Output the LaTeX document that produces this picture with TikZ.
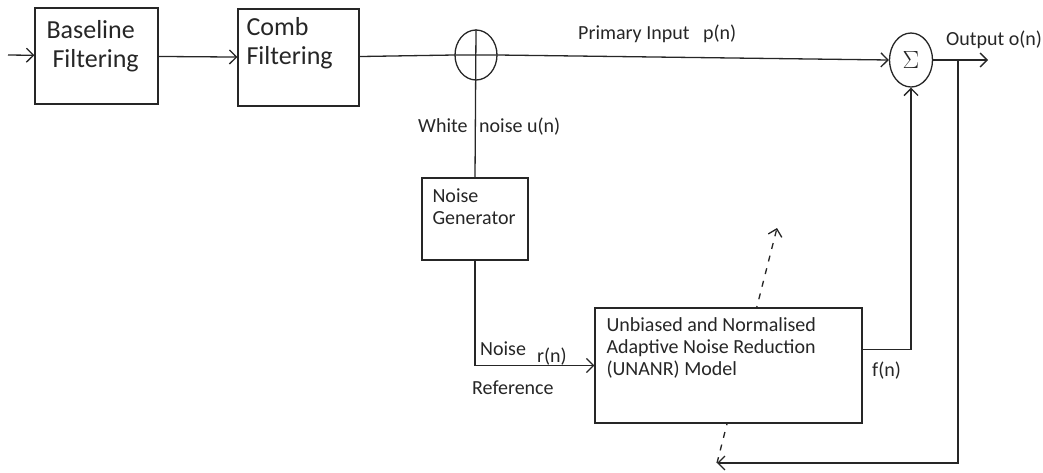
\documentclass[tikz,border=0pt]{standalone}
\usepackage{fontspec}
\setmainfont{Carlito}
\usetikzlibrary{positioning,shapes.geometric,arrows.meta}

\begin{document}
\begin{tikzpicture}[
        x=1pt, y=-1pt,
        % define styles
        block/.style={
            draw, fill=white,
            line width=1.3pt,
            inner sep=0pt
        },
        blocktext/.style={
            anchor=north west,
            inner sep=0pt,
            align=left,
            font=\fontsize{20}{22}\selectfont
        },
        bigtext/.style={
            blocktext,
            font=\fontsize{26}{29}\selectfont
        },
        junction/.style={
            draw, ellipse,
            line width=1.3pt,
            inner sep=0pt
        },
        sig/.style={
            anchor=base west,
            inner sep=0pt,
            font=\fontsize{20}{22}\selectfont
        },
        wire/.style={line width=1.3pt},
        adapt/.style={line width=1.3pt, dash pattern=on 6pt off 7pt},
        >={Straight Barb[length=7pt,width=14pt]},
        color=black!85
    ]
    \useasboundingbox (0,0) rectangle (1043,472);

    % free ends of the connectors
    \coordinate (in) at (8,55);
    \coordinate (out) at (988,60);
    \coordinate (tap) at (958,60);
    \coordinate (fb) at (717,463);
    \coordinate (tune) at (777,228);

    % adaptation arrow, runs behind the model block
    \draw[adapt, ->] (fb) -- (tune);

    % blocks
    \node[block, minimum width=123pt, minimum height=96pt,
        label={[bigtext, xshift=12pt, yshift=-13pt]north west:{Baseline\\\hspace*{6pt}Filtering}}]
        (base) at (96.5,56) {};
    \node[block, minimum width=121pt, minimum height=97pt,
        label={[bigtext, xshift=9pt, yshift=-9pt]north west:{Comb\\Filtering}}]
        (comb) at (298.5,57.5) {};
    \node[block, minimum width=106pt, minimum height=82pt,
        label={[blocktext, xshift=11pt, yshift=-11pt]north west:{Noise\\Generator}}]
        (noise) at (475,219) {};
    \node[block, minimum width=267pt, minimum height=115pt,
        label={[blocktext, xshift=12pt, yshift=-10pt]north west:{Unbiased and Normalised\\Adaptive Noise Reduction\\(UNANR) Model}}]
        (unanr) at (728.5,365.5) {};

    % adder and sum
    \node[junction, minimum width=42pt, minimum height=50pt] (plus) at (476,55) {};
    \node[junction, minimum width=43pt, minimum height=54pt,
        font=\fontsize{28}{28}\selectfont] (sum) at (911,60) {$\Sigma$};

    % main signal path
    \draw[wire, ->] (in) -- (base);
    \draw[wire, ->] (base) -- (comb);
    \draw[wire] (comb) -- (plus.west) -- (plus.east);
    \draw[wire, ->] (plus.east) -- (sum.west);
    \draw[wire, ->] (sum) -- (out);

    % noise branch
    \draw[wire] (plus.north) -- (noise.north);
    \draw[wire, ->] (noise) |- (unanr);

    % filter output and feedback
    \draw[wire, ->] ([yshift=16pt]unanr.east) -| (sum);
    \draw[wire, ->] (tap) |- (fb);

    % signal labels
    \node[sig] (lp) at (578,39) {Primary Input\hspace{9pt} p(n)};
    \node[sig] (lw) at (418,132) {White};
    \node[sig] (lu) at (479,132) {noise u(n)};
    \node[sig] (ln) at (480,355) {Noise};
    \node[sig] (lr) at (537,362) {r(n)};
    \node[sig] (lref) at (472,394) {Reference};
    \node[sig] (lf) at (872,376) {f(n)};
    \node[sig] (lo) at (946,45) {Output o(n)};
\end{tikzpicture}
\end{document}
